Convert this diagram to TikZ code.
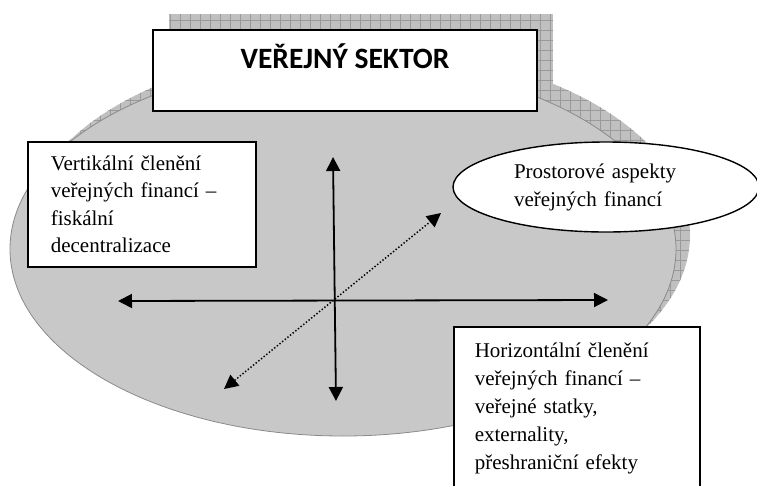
\documentclass[tikz,border=0pt]{standalone}
\usepackage{fontspec}
\setmainfont{Liberation Serif}
\newfontfamily\bodyserif{Liberation Serif}
\newfontfamily\calibrifont{Carlito}
\usetikzlibrary{arrows.meta,shapes.geometric}

\definecolor{discgray}{HTML}{C8C8C8}
\definecolor{discedge}{HTML}{8A8A8A}
\definecolor{shadegray}{HTML}{C0C0C0}
\definecolor{shadeline}{HTML}{9A9A9A}

\begin{document}
\begin{tikzpicture}[x=1pt,y=-1pt,
  frame/.style={draw=black,line width=1.6pt,fill=white},
  body/.style={font=\bodyserif\fontsize{21}{27.5}\selectfont,align=left},
  axis/.style={line width=1.8pt,{Triangle[length=14pt,width=14pt]}-{Triangle[length=14pt,width=14pt]}},
  diag/.style={line width=1.5pt,dash pattern=on 1.4pt off 2pt,{Triangle[length=14pt,width=14pt]}-{Triangle[length=14pt,width=14pt]}},
  gridshade/.style={draw=shadeline,line width=0.6pt}
]
\useasboundingbox (0,0) rectangle (757,485);
\clip (0,0) rectangle (757,485);

% hatched shadow of the disc
\begin{scope}
  \clip (357,235) ellipse [x radius=333, y radius=187];
  \fill[shadegray] (0,0) rectangle (757,485);
  \draw[gridshade] (0,0) grid[step=10pt] (757,485);
\end{scope}

% grey disc of the public sector
\draw[discedge,fill=discgray,line width=0.8pt] (343,249) ellipse [x radius=333, y radius=187];

% hatched shadow of the title box
\begin{scope}
  \clip (169,14) rectangle (553,95);
  \fill[shadegray] (169,14) rectangle (553,95);
  \draw[gridshade] (160,10) grid[step=10pt] (560,100);
\end{scope}

% title
\node[frame,minimum width=384pt,inner xsep=0pt,inner ysep=0pt,
      text height=38pt,text depth=43pt,
      font=\calibrifont\bfseries\fontsize{29.5}{35}\selectfont] (title) at (345,70.5) {VEŘEJNÝ SEKTOR};

% vertical division box
\node[frame,body,text width=182pt,inner xsep=23pt,minimum height=125pt,anchor=north west]
  (vert) at (27,141) {Vertikální členění\\veřejných financí –\\fiskální\\decentralizace};

% axes
\coordinate (vtop) at (333,157);
\coordinate (vbot) at (336,401);
\coordinate (hleft) at (118,301);
\coordinate (hright) at (608,300);
\coordinate (dlow) at (224,389);
\coordinate (dhigh) at (441,213);

\draw[axis] (vtop) -- (vbot);
\draw[axis] (hleft) -- (hright);
\draw[diag] (dlow) -- (dhigh);

% spatial aspects ellipse
\node[ellipse,draw=black,line width=1.4pt,fill=white,minimum width=306pt,minimum height=90pt,
      inner sep=0pt,text width=184pt,align=left,font=\bodyserif\fontsize{21}{28}\selectfont]
  (space) at (606,187) {Prostorové aspekty\\veřejných financí};

% horizontal division box
\node[frame,text width=204pt,inner xsep=21pt,inner ysep=16.5pt,anchor=north west,
      align=left,font=\bodyserif\fontsize{21}{28}\selectfont]
  (horiz) at (453,326) {Horizontální členění\\veřejných financí –\\veřejné statky,\\externality,\\přeshraniční efekty};
\end{tikzpicture}
\end{document}
